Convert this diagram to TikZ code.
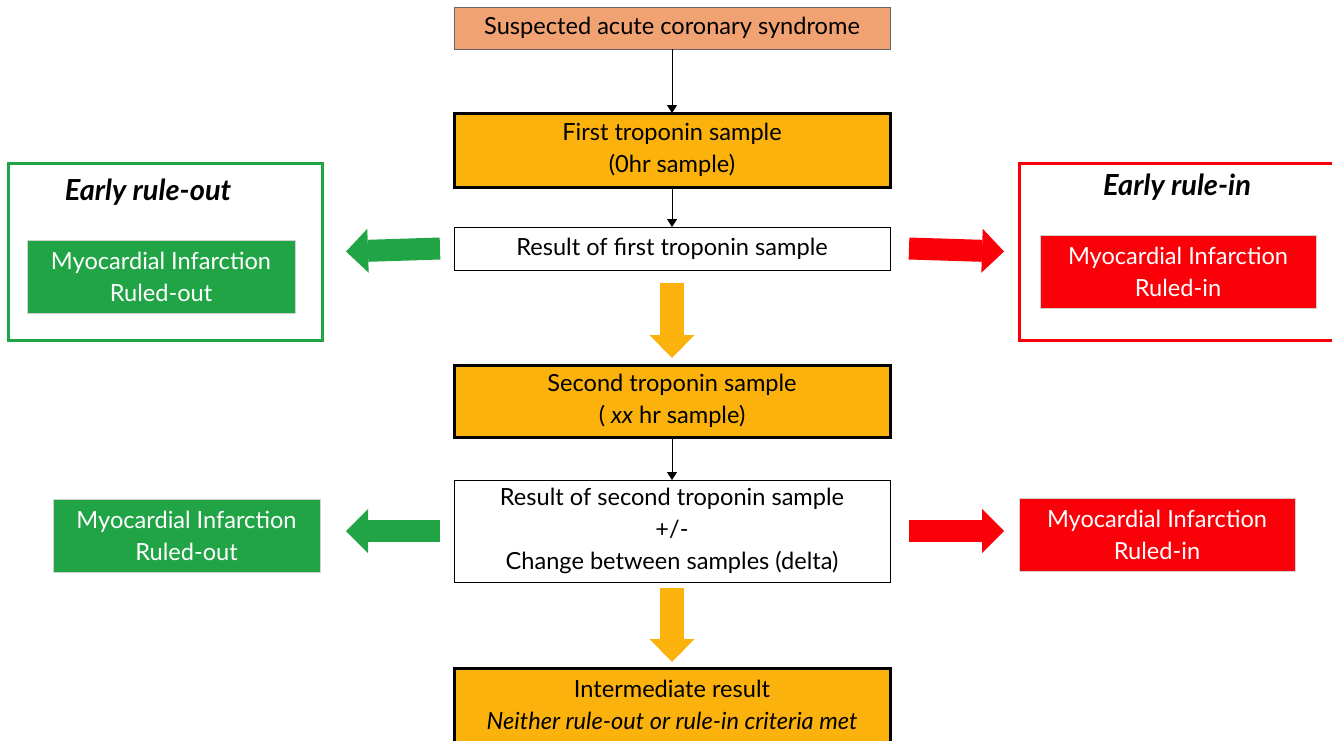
\documentclass[tikz,border=0pt]{standalone}
\usepackage{fontspec}
\setmainfont{Lato}
\usetikzlibrary{arrows.meta}
\definecolor{salmon}{HTML}{F0A273}
\definecolor{amber}{HTML}{FBB20D}
\definecolor{rulegreen}{HTML}{21A446}
\definecolor{rulered}{HTML}{FA0008}
\begin{document}
\begin{tikzpicture}[x=0.5pt,y=-0.5pt,
  every node/.style={font=\fontsize{11.8}{16}\selectfont, align=center, inner sep=0pt, outer sep=0pt},
  flowbox/.style={draw=black, minimum width=218pt},
  samplebox/.style={flowbox, fill=amber, line width=1.5pt},
  resultbox/.style={flowbox, fill=white, line width=0.5pt},
  earlybox/.style={line width=1.5pt, fill=white, minimum height=88.5pt},
  mibox/.style={draw=gray!35, line width=0.5pt, text=white, minimum height=36.5pt},
  earlytitle/.style={font=\fontsize{14.5}{16}\selectfont\bfseries\itshape},
  thinarrow/.style={-{Triangle[length=4pt,width=5pt]}, line width=0.5pt},
  fatarrow/.style={line width=11pt, -{Triangle[length=11pt,width=22pt,line width=0pt]}},
  downarrow/.style={amber, line width=12pt, -{Triangle[length=11.5pt,width=22.5pt,line width=0pt]}}]
\useasboundingbox (0,0) rectangle (1332,740);
\clip (0,0) rectangle (1332,740);

% centre column
\node[flowbox, draw=gray!80!black, line width=0.5pt, fill=salmon, minimum height=21pt] (acs) at (672,28) {Suspected acute coronary syndrome};
\node[samplebox, minimum height=37pt] (first) at (672,150) {First troponin sample\\(0hr sample)};
\node[resultbox, minimum height=21.5pt] (firstres) at (672,248.5) {Result of first troponin sample};
\node[samplebox, minimum height=36pt] (second) at (672,401) {Second troponin sample\\( \textit{xx} hr sample)};
\node[resultbox, minimum height=51pt] (secondres) at (672,531) {Result of second troponin sample\\+/-\\Change between samples (delta)};
\node[samplebox, minimum height=37pt] (inter) at (672,705) {Intermediate result\\\textit{Neither rule-out or rule-in criteria met}};

% early boxes
\node[earlybox, draw=rulegreen, minimum width=157pt] (earlyout) at (165,251.5) {};
\node[earlytitle] (earlyouttitle) at (148,192) {Early rule-out};
\node[mibox, fill=rulegreen, minimum width=134pt] (earlyoutmi) at (161,276.5) {Myocardial Infarction\\Ruled-out};
\node[earlybox, draw=rulered, minimum width=157.5pt] (earlyin) at (1176.5,251.5) {};
\node[earlytitle] (earlyintitle) at (1177,187) {Early rule-in};
\node[mibox, fill=rulered, minimum width=138pt] (earlyinmi) at (1178,271.5) {Myocardial Infarction\\Ruled-in};

% second results
\node[mibox, fill=rulegreen, minimum width=133.5pt] (lateout) at (186.5,536) {Myocardial Infarction\\Ruled-out};
\node[mibox, fill=rulered, minimum width=138pt] (latein) at (1157,535) {Myocardial Infarction\\Ruled-in};

\draw[thinarrow] (acs) -- (first);
\draw[thinarrow] (first) -- (firstres);
\draw[thinarrow] (second) -- (secondres);

\draw[fatarrow, rulegreen] ([xshift=-7pt]firstres.west) -- ([xshift=12pt]earlyout.east);
\draw[fatarrow, rulered] ([xshift=9.5pt]firstres.east) -- ([xshift=-7.5pt]earlyin.west);
\draw[fatarrow, rulegreen] ([xshift=-7pt]secondres.west) -- ++(-47pt,0);
\draw[fatarrow, rulered] ([xshift=9.5pt]secondres.east) -- ++(47.5pt,0);
\draw[downarrow] ([yshift=-6.5pt]firstres.south) -- ([yshift=3.5pt]second.north);
\draw[downarrow] ([yshift=-3pt]secondres.south) -- ([yshift=3pt]inter.north);
\end{tikzpicture}
\end{document}
